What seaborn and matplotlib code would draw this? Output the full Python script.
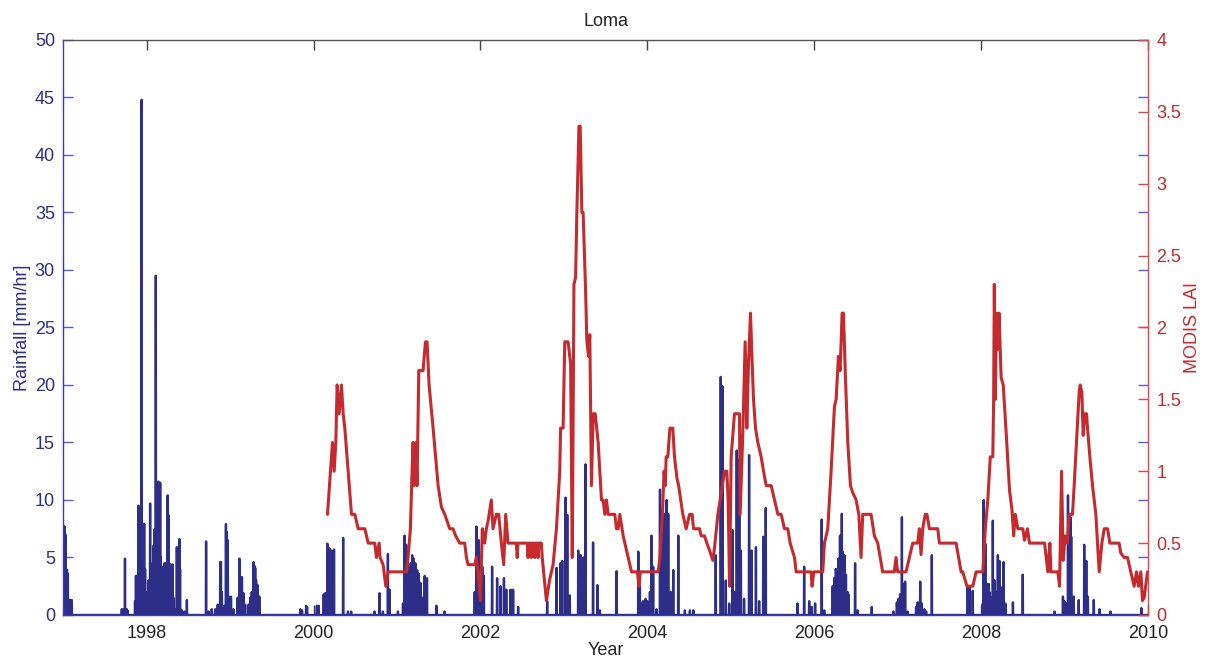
import numpy as np
import pandas as pd
import matplotlib
matplotlib.use("Agg")
import matplotlib.pyplot as plt
import seaborn as sns

# ---- Rainfall events (decimal year, mm/hr); every other day is dry ----
rain_year = [
    1997.005, 1997.015, 1997.025, 1997.035, 1997.045, 1997.055, 1997.07, 1997.085, 1997.10,
    1997.70, 1997.72, 1997.74, 1997.76, 1997.77,
    1997.86, 1997.87, 1997.88, 1997.90, 1997.91, 1997.925, 1997.94, 1997.95, 1997.96, 1997.97,
    1997.98, 1997.99, 1998.00, 1998.02, 1998.04, 1998.05, 1998.06, 1998.07, 1998.08, 1998.09,
    1998.11, 1998.12, 1998.13, 1998.14, 1998.15, 1998.16, 1998.17, 1998.18, 1998.19, 1998.20,
    1998.21, 1998.22, 1998.23, 1998.25, 1998.26, 1998.27, 1998.28, 1998.29, 1998.31, 1998.32,
    1998.34, 1998.36, 1998.37, 1998.39, 1998.40, 1998.42, 1998.45, 1998.48,
    1998.71, 1998.74, 1998.78, 1998.82, 1998.85, 1998.88, 1998.89, 1998.90, 1998.93, 1998.95,
    1998.96, 1998.97, 1998.98, 1999.01, 1999.04, 1999.09, 1999.11, 1999.12, 1999.13, 1999.14,
    1999.16, 1999.18, 1999.22, 1999.24, 1999.26, 1999.28, 1999.29, 1999.30, 1999.31, 1999.33,
    1999.34, 1999.35,
    1999.84, 1999.86, 1999.91, 1999.92, 2000.04, 2000.06, 2000.12, 2000.14, 2000.165, 2000.175,
    2000.19, 2000.20, 2000.215, 2000.23, 2000.245, 2000.355, 2000.41, 2000.45,
    2000.73, 2000.79, 2000.83, 2000.89, 2000.91, 2001.01, 2001.07, 2001.09, 2001.10, 2001.11,
    2001.12, 2001.13, 2001.14, 2001.15, 2001.165, 2001.18, 2001.19, 2001.20, 2001.21, 2001.22,
    2001.23, 2001.24, 2001.25, 2001.26, 2001.28, 2001.30, 2001.33, 2001.36, 2001.47, 2001.57,
    2001.93, 2001.95, 2001.96, 2001.98, 2001.99, 2002.00, 2002.02, 2002.04, 2002.14, 2002.20,
    2002.24, 2002.28, 2002.31, 2002.36, 2002.39, 2002.45,
    2002.80, 2002.91, 2002.96, 2002.98, 2003.02, 2003.04, 2003.07, 2003.17, 2003.20, 2003.23,
    2003.26, 2003.35, 2003.40, 2003.43, 2003.63,
    2003.89, 2003.91, 2003.93, 2003.95, 2003.98, 2004.00, 2004.03, 2004.05, 2004.07, 2004.11,
    2004.15, 2004.16, 2004.18, 2004.19, 2004.20, 2004.22, 2004.23, 2004.25, 2004.28, 2004.31,
    2004.37, 2004.45, 2004.51, 2004.55,
    2004.82, 2004.88, 2004.90, 2004.94, 2004.98, 2005.02, 2005.04, 2005.07, 2005.10, 2005.12,
    2005.16, 2005.22, 2005.25, 2005.30, 2005.34, 2005.39, 2005.42,
    2005.80, 2005.88, 2005.94, 2005.97, 2006.01, 2006.09, 2006.12, 2006.22, 2006.24, 2006.25,
    2006.26, 2006.27, 2006.29, 2006.30, 2006.31, 2006.32, 2006.33, 2006.34, 2006.35, 2006.36,
    2006.37, 2006.38, 2006.40, 2006.41, 2006.49, 2006.52, 2006.69,
    2006.95, 2006.99, 2007.01, 2007.03, 2007.05, 2007.07, 2007.09, 2007.12, 2007.22, 2007.24,
    2007.27, 2007.29, 2007.32, 2007.34, 2007.41,
    2007.84, 2007.86, 2007.90, 2008.02, 2008.03, 2008.05, 2008.07, 2008.09, 2008.10, 2008.12,
    2008.14, 2008.16, 2008.18, 2008.20, 2008.22, 2008.24, 2008.27, 2008.29, 2008.38, 2008.50,
    2008.88, 2008.98, 2009.00, 2009.02, 2009.04, 2009.06, 2009.07, 2009.08, 2009.11, 2009.17,
    2009.235, 2009.26, 2009.28, 2009.35, 2009.42, 2009.55, 2009.92,
]
rain_mm = [
    7.7, 7.7, 7.0, 4.0, 3.9, 3.6, 1.3, 1.3, 1.3,
    0.5, 0.5, 4.9, 0.5, 0.4,
    1.2, 3.4, 3.4, 9.5, 5.0, 6.0, 44.8, 6.0, 7.9, 7.9,
    4.0, 2.0, 1.0, 3.0, 9.7, 4.0, 2.8, 4.5, 6.0, 7.4,
    29.5, 6.0, 5.0, 11.6, 7.0, 11.5, 5.0, 4.0, 3.9, 4.2,
    4.5, 4.2, 4.5, 10.4, 8.7, 4.4, 4.4, 4.0, 4.4, 1.5,
    0.5, 5.9, 5.0, 6.6, 4.0, 0.4, 0.3, 1.3,
    6.4, 0.3, 0.5, 0.5, 0.9, 4.6, 4.6, 2.0, 0.8, 7.9,
    7.2, 6.5, 1.6, 1.6, 0.5, 1.5, 4.9, 3.3, 2.8, 3.3,
    1.9, 0.9, 0.9, 1.5, 2.0, 4.6, 4.3, 4.1, 3.0, 2.6,
    1.6, 1.6,
    0.5, 0.4, 0.8, 0.7, 0.8, 0.8, 1.8, 1.9, 6.2, 5.5,
    5.8, 4.0, 5.6, 4.5, 5.7, 6.7, 0.3, 0.3,
    0.3, 1.9, 0.3, 5.3, 2.2, 0.3, 1.0, 6.9, 5.5, 6.1,
    4.0, 4.5, 3.5, 4.0, 4.5, 5.2, 4.0, 4.9, 3.5, 4.5,
    3.0, 3.9, 2.0, 3.6, 2.8, 1.5, 3.4, 3.2, 0.8, 0.3,
    2.0, 7.7, 6.0, 6.5, 4.0, 5.1, 4.2, 3.4, 4.2, 3.2,
    2.5, 3.2, 2.2, 2.2, 2.2, 0.7,
    1.2, 4.1, 4.5, 4.7, 10.2, 8.7, 1.7, 5.6, 5.2, 5.0,
    13.1, 6.3, 2.6, 0.4, 3.8,
    5.5, 2.5, 1.0, 1.2, 1.4, 1.2, 2.0, 6.9, 4.2, 0.5,
    10.9, 4.0, 7.1, 3.5, 8.8, 5.0, 10.0, 8.8, 2.0, 3.9,
    6.9, 0.4, 0.4, 0.4,
    5.2, 20.7, 19.9, 3.0, 1.0, 7.4, 2.0, 14.3, 13.5, 5.6,
    1.4, 13.9, 5.6, 5.9, 1.2, 6.8, 9.3,
    1.0, 4.2, 1.2, 0.7, 1.0, 8.3, 0.4, 2.5, 3.2, 2.0,
    4.0, 3.0, 4.9, 3.5, 6.9, 4.0, 8.8, 5.5, 3.0, 5.2,
    2.5, 3.5, 2.0, 1.8, 4.5, 0.4, 0.7,
    0.3, 1.1, 1.4, 1.8, 8.5, 2.7, 2.9, 0.3, 0.7, 1.1,
    2.9, 1.0, 0.5, 0.3, 5.2,
    2.4, 2.4, 2.1, 1.0, 10.0, 6.2, 2.7, 2.7, 2.0, 1.5,
    8.2, 3.0, 2.0, 5.2, 4.7, 2.4, 4.6, 1.0, 1.1, 3.5,
    0.3, 1.6, 1.2, 1.0, 10.4, 2.0, 8.5, 6.8, 1.6, 1.3,
    6.1, 4.7, 1.6, 1.3, 0.5, 0.3, 0.6,
]

# ---- MODIS leaf area index (decimal year, LAI) ----
lai_year = [
    2000.166, 2000.226, 2000.246, 2000.266, 2000.282, 2000.306, 2000.334, 2000.354, 2000.374, 2000.414,
    2000.454, 2000.494, 2000.534, 2000.614, 2000.654, 2000.733, 2000.753, 2000.785, 2000.797, 2000.833,
    2000.865, 2000.893, 2001.112, 2001.132, 2001.160, 2001.180, 2001.192, 2001.204, 2001.224, 2001.240,
    2001.260, 2001.312, 2001.340, 2001.360, 2001.384, 2001.432, 2001.492, 2001.532, 2001.572, 2001.631,
    2001.671, 2001.703, 2001.751, 2001.811, 2001.831, 2001.851, 2001.931, 2001.950, 2001.970, 2001.999,
    2002.022, 2002.050, 2002.070, 2002.090, 2002.130, 2002.150, 2002.190, 2002.218, 2002.250, 2002.278,
    2002.302, 2002.330, 2002.43, 2002.44, 2002.45, 2002.56, 2002.57, 2002.58, 2002.60, 2002.61,
    2002.62, 2002.64, 2002.65, 2002.66, 2002.68, 2002.69, 2002.70, 2002.73, 2002.74, 2002.79,
    2002.83, 2002.87, 2002.91, 2002.95, 2002.96, 2002.99, 2003.01, 2003.05, 2003.08, 2003.10,
    2003.12, 2003.14, 2003.155, 2003.18, 2003.195, 2003.215, 2003.23, 2003.26, 2003.275, 2003.295,
    2003.31, 2003.33, 2003.35, 2003.375, 2003.41, 2003.43, 2003.45, 2003.47, 2003.49, 2003.51,
    2003.53, 2003.61, 2003.63, 2003.65, 2003.67, 2003.71, 2003.73, 2003.77, 2003.81, 2003.88,
    2003.90, 2003.915, 2004.13, 2004.15, 2004.18, 2004.20, 2004.215, 2004.225, 2004.245, 2004.27,
    2004.305, 2004.325, 2004.355, 2004.375, 2004.40, 2004.425, 2004.465, 2004.505, 2004.537, 2004.553,
    2004.625, 2004.645, 2004.685, 2004.713, 2004.745, 2004.785, 2004.805, 2004.845, 2004.885, 2004.925,
    2004.952, 2004.968, 2004.985, 2005.004, 2005.024, 2005.044, 2005.104, 2005.112, 2005.143, 2005.172,
    2005.192, 2005.212, 2005.236, 2005.256, 2005.272, 2005.296, 2005.324, 2005.364, 2005.392, 2005.424,
    2005.484, 2005.524, 2005.564, 2005.604, 2005.643, 2005.683, 2005.711, 2005.763, 2005.783, 2005.962,
    2005.974, 2005.994, 2006.102, 2006.122, 2006.162, 2006.202, 2006.242, 2006.262, 2006.290, 2006.310,
    2006.334, 2006.350, 2006.374, 2006.402, 2006.434, 2006.462, 2006.502, 2006.534, 2006.561, 2006.581,
    2006.681, 2006.721, 2006.761, 2006.820, 2006.960, 2006.980, 2007.000, 2007.10, 2007.14, 2007.18,
    2007.24, 2007.26, 2007.28, 2007.30, 2007.33, 2007.35, 2007.38, 2007.48, 2007.50, 2007.70,
    2007.73, 2007.76, 2007.78, 2007.83, 2007.90, 2007.94, 2008.02, 2008.05, 2008.08, 2008.11,
    2008.14, 2008.15, 2008.158, 2008.17, 2008.185, 2008.20, 2008.215, 2008.24, 2008.265, 2008.30,
    2008.34, 2008.37, 2008.39, 2008.41, 2008.44, 2008.50, 2008.52, 2008.555, 2008.58, 2008.76,
    2008.80, 2008.824, 2008.836, 2008.92, 2008.94, 2008.964, 2008.984, 2009.007, 2009.035, 2009.055,
    2009.095, 2009.115, 2009.143, 2009.175, 2009.187, 2009.207, 2009.223, 2009.243, 2009.263, 2009.275,
    2009.303, 2009.335, 2009.375, 2009.415, 2009.447, 2009.475, 2009.515, 2009.543, 2009.654, 2009.674,
    2009.714, 2009.754, 2009.794, 2009.834, 2009.862, 2009.886, 2009.914, 2009.934, 2009.954, 2009.994,
]
lai_value = [
    0.7, 1.2, 1.0, 1.2, 1.6, 1.4, 1.6, 1.4, 1.3, 1.0,
    0.7, 0.7, 0.6, 0.6, 0.5, 0.5, 0.4, 0.5, 0.4, 0.35,
    0.2, 0.3, 0.3, 0.4, 0.6, 1.0, 1.2, 0.9, 1.2, 0.9,
    1.7, 1.7, 1.9, 1.9, 1.6, 1.3, 0.9, 0.75, 0.7, 0.6,
    0.6, 0.55, 0.5, 0.5, 0.4, 0.35, 0.35, 0.4, 0.3, 0.1,
    0.6, 0.5, 0.6, 0.65, 0.8, 0.6, 0.7, 0.7, 0.5, 0.35,
    0.7, 0.5, 0.5, 0.4, 0.5, 0.5, 0.4, 0.5, 0.5, 0.4,
    0.5, 0.5, 0.4, 0.5, 0.5, 0.4, 0.5, 0.5, 0.4, 0.1,
    0.25, 0.35, 0.6, 1.0, 1.3, 1.3, 1.9, 1.9, 1.75, 0.4,
    2.3, 2.35, 2.8, 3.4, 3.4, 2.8, 2.8, 2.25, 1.9, 1.8,
    1.95, 0.9, 1.4, 1.4, 1.2, 1.0, 0.8, 0.8, 0.7, 0.8,
    0.7, 0.7, 0.6, 0.6, 0.7, 0.55, 0.5, 0.4, 0.3, 0.3,
    0.2, 0.3, 0.3, 0.4, 0.7, 1.0, 0.9, 1.1, 1.1, 1.3,
    1.3, 1.1, 0.95, 0.9, 0.8, 0.7, 0.6, 0.7, 0.7, 0.6,
    0.6, 0.55, 0.55, 0.5, 0.45, 0.38, 0.47, 0.7, 0.85, 1.0,
    1.0, 0.8, 0.2, 1.1, 1.25, 1.4, 1.4, 0.7, 1.25, 1.9,
    1.3, 1.75, 2.1, 1.75, 1.5, 1.3, 1.2, 1.1, 1.0, 0.9,
    0.9, 0.8, 0.7, 0.7, 0.6, 0.6, 0.5, 0.4, 0.3, 0.3,
    0.2, 0.3, 0.3, 0.5, 0.6, 1.0, 1.45, 1.5, 1.8, 1.7,
    2.1, 2.1, 1.65, 1.2, 0.9, 0.85, 0.8, 0.7, 0.4, 0.7,
    0.7, 0.55, 0.5, 0.3, 0.3, 0.4, 0.3, 0.3, 0.4, 0.5,
    0.5, 0.6, 0.42, 0.6, 0.7, 0.7, 0.6, 0.6, 0.5, 0.5,
    0.4, 0.3, 0.3, 0.2, 0.2, 0.3, 0.3, 0.6, 0.8, 1.1,
    1.1, 1.5, 2.3, 1.5, 2.1, 1.85, 2.1, 1.65, 1.6, 1.27,
    0.87, 0.73, 0.55, 0.7, 0.6, 0.6, 0.52, 0.6, 0.5, 0.5,
    0.3, 0.5, 0.3, 0.3, 0.2, 1.0, 0.38, 0.55, 0.5, 0.7,
    0.7, 0.9, 1.2, 1.55, 1.6, 1.55, 1.25, 1.4, 1.4, 1.3,
    1.1, 0.9, 0.7, 0.3, 0.5, 0.6, 0.6, 0.5, 0.5, 0.43,
    0.4, 0.4, 0.3, 0.2, 0.3, 0.2, 0.3, 0.1, 0.12, 0.3,
]

year_ticks = [1998, 2000, 2002, 2004, 2006, 2008, 2010]
rain_ticks = [0, 5, 10, 15, 20, 25, 30, 35, 40, 45, 50]
lai_ticks = [0, 0.5, 1, 1.5, 2, 2.5, 3, 3.5, 4]

BLUE = "#2c2e88"
BLUE_AXIS = "#3a3aa8"
TICK_BLUE = "#5a5ac8"
RED = "#c42a2e"
RED_AXIS = "#e0474c"
FS = 13

sns.set_theme(style="white")
plt.rcParams["font.family"] = ["Liberation Sans", "DejaVu Sans"]

# Daily rainfall record on a regular day grid
days_per_year = 365.25
n_days = int(round((2010 - 1997) * days_per_year)) + 1
day_t = 1997 + np.arange(n_days) / days_per_year
rain_daily = np.zeros(n_days)
for yr, v in zip(rain_year, rain_mm):
    rain_daily[int(round((yr - 1997) * days_per_year))] = v

rain_df = pd.DataFrame({"Year": day_t, "Rainfall": rain_daily})
lai_df = pd.DataFrame({"Year": lai_year, "LAI": lai_value})

fig = plt.figure(figsize=(12.05, 6.62), dpi=100)
ax = fig.add_axes([0.05253, 0.0710, 0.90017, 0.8686])

sns.lineplot(data=rain_df, x="Year", y="Rainfall", ax=ax, color=BLUE,
             linewidth=1.7, estimator=None, sort=False)
ax.set_xlim(1997, 2010)
ax.set_ylim(0, 50)
ax.set_xticks(year_ticks)
ax.set_xticklabels([str(y) for y in year_ticks])
ax.set_yticks(rain_ticks)
ax.set_yticklabels([str(v) for v in rain_ticks])
ax.tick_params(axis="x", direction="in", length=7, width=1, top=True, bottom=True,
               colors="#444444", labelcolor="#222222", labelsize=FS, pad=7)
ax.set_xlabel("Year", fontsize=FS, color="#222222", labelpad=0)
ax.set_ylabel("Rainfall [mm/hr]", fontsize=FS, color=BLUE, labelpad=3)
ax.set_title("Loma", fontsize=FS, color="#222222", pad=10)
for side in ["left", "bottom"]:
    ax.spines[side].set_color(BLUE_AXIS)
ax.spines["top"].set_color("#555555")
ax.spines["right"].set_visible(False)
for s in ax.spines.values():
    s.set_linewidth(1)

ax2 = ax.twinx()
sns.lineplot(data=lai_df, x="Year", y="LAI", ax=ax2, color=RED,
             linewidth=2.2, estimator=None, sort=False)
ax2.set_ylim(0, 4)
ax2.set_xlim(1997, 2010)
ax2.set_yticks(lai_ticks)
ax2.set_yticklabels([f"{v:g}" for v in lai_ticks])
ax2.tick_params(axis="y", colors=RED_AXIS, labelcolor=RED, direction="in", length=7,
                width=1, right=True, left=False, labelsize=FS, pad=6)
ax2.set_ylabel("MODIS LAI", fontsize=FS, color=RED, labelpad=2)
for side in ["left", "top", "bottom"]:
    ax2.spines[side].set_visible(False)
ax2.spines["right"].set_color(RED_AXIS)
ax2.spines["right"].set_linewidth(1)

# Rainfall ticks on both sides of the box (twinx resets them to the left only)
ax.tick_params(axis="y", colors=TICK_BLUE, labelcolor=BLUE, direction="in", length=7,
               width=1, left=True, right=True, labelleft=True, labelright=False,
               labelsize=FS, pad=6)
ax2.grid(False)
ax.grid(False)

fig.savefig("out.png", dpi=100)
